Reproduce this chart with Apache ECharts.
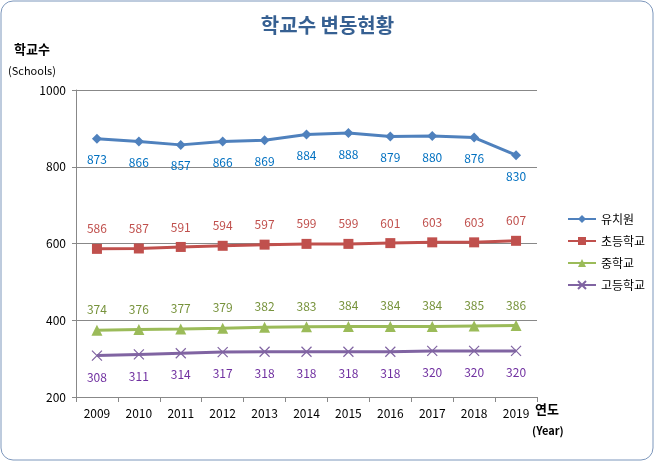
<!DOCTYPE html>
<html><head><meta charset="utf-8">
<script src="https://cdn.jsdelivr.net/npm/echarts@6/dist/echarts.min.js"></script>
<style>html,body{margin:0;padding:0;background:#fff}#c{width:655px;height:462px}</style>
</head><body><div id="c"></div>
<script>
const years = ['2009','2010','2011','2012','2013','2014','2015','2016','2017','2018','2019'];
const kinder = [873,866,857,866,869,884,888,879,880,876,830];
const elem = [586,587,591,594,597,599,599,601,603,603,607];
const middle = [374,376,377,379,382,383,384,384,384,385,386];
const high = [308,311,314,317,318,318,318,318,320,320,320];
const seriesNames = ['유치원','초등학교','중학교','고등학교'];
const yTicks = [200,400,600,800,1000];

const font = '"Noto Sans CJK KR", "Noto Sans", sans-serif';
const chart = echarts.init(document.getElementById('c'), null, {renderer:'canvas'});
function mk(name, data, color, lblColor, symbol, size, pos, extra) {
  return Object.assign({
    name, type:'line', data, symbol, symbolSize:size,
    lineStyle:{color, width:3},
    itemStyle:{color},
    label:{show:true, position:pos, distance:pos==='bottom'?10:9, color:lblColor, fontSize:12, fontFamily:font},
    emphasis:{disabled:true}, animation:false
  }, extra||{});
}
chart.setOption({
  animation:false,
  backgroundColor:'#fff',
  title:{text:'학교수 변동현황', left:'center', top:10, textStyle:{fontFamily:font, fontSize:20, fontWeight:'bold', color:'#366092'}},
  graphic:[
    {type:'rect', shape:{x:1,y:1,width:652,height:459,r:12}, style:{fill:'none', stroke:'#7D97BC', lineWidth:1}, z:-1},
    {type:'text', left:14, top:43, style:{text:'학교수', font:'bold 13px '+font, fill:'#000'}},
    {type:'text', left:8, top:65, style:{text:'(Schools)', font:'11px '+font, fill:'#000'}},
    {type:'text', left:535, top:403, style:{text:'연도', font:'bold 13px '+font, fill:'#000'}},
    {type:'text', left:532, top:425, style:{text:'(Year)', font:'bold 11px '+font, fill:'#000'}}
  ],
  legend:{orient:'vertical', left:562, top:208, itemWidth:28, itemHeight:10, itemGap:10,
    textStyle:{fontFamily:font, fontSize:12, color:'#000'}, data:seriesNames},
  grid:{left:76, right:118, top:90, bottom:65, containLabel:false},
  xAxis:{type:'category', data:years, boundaryGap:true,
    axisLine:{lineStyle:{color:'#888'}},
    axisTick:{show:true, alignWithLabel:false, length:5, lineStyle:{color:'#888'}},
    axisLabel:{color:'#000', fontSize:12, fontFamily:font, margin:10}},
  yAxis:{type:'value', min:200, max:1000, interval:200,
    axisLine:{show:true, lineStyle:{color:'#888'}},
    axisTick:{show:true, length:4, inside:false, lineStyle:{color:'#888'}},
    splitLine:{lineStyle:{color:'#888'}},
    axisLabel:{color:'#000', fontSize:12, fontFamily:font, margin:10,
      formatter:v=>yTicks.includes(v)?String(v):''}},
  series:[
    mk(seriesNames[0], kinder, '#4F81BD', '#0070C0', 'diamond', 10, 'bottom'),
    mk(seriesNames[1], elem, '#C0504D', '#C0504D', 'rect', 10, 'top'),
    mk(seriesNames[2], middle, '#9BBB59', '#77933C', 'triangle', 11, 'top'),
    mk(seriesNames[3], high, '#8064A2', '#7030A0', 'path://M0,0L10,10M10,0L0,10', 10, 'bottom',
      {itemStyle:{color:'#8064A2', borderColor:'#8064A2', borderWidth:1.2}})
  ]
});
</script></body></html>
